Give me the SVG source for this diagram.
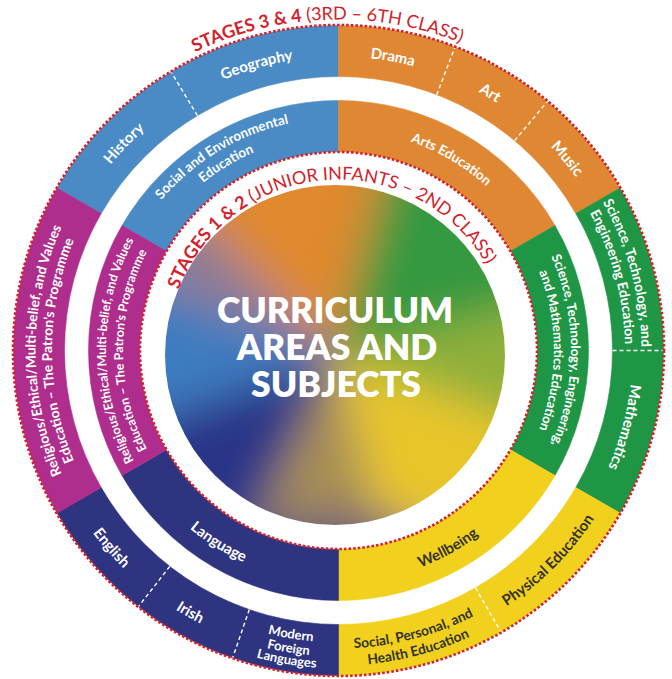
<svg xmlns="http://www.w3.org/2000/svg" width="672" height="679" viewBox="0 0 672 679">
<style>
.t{font-family:Lato,'Liberation Sans',sans-serif;font-weight:700;text-anchor:middle}
.w{fill:#ffffff}
.k{fill:#34342a}
.r{fill:#d3222a;font-size:18px}
.s1{font-size:15px}
.s2{font-size:13.8px}
.s3{font-size:13.5px}
.s4{font-size:13px}
.s5{font-size:12.5px}
.div{stroke:#ffffff;stroke-width:1.4;stroke-dasharray:4 3;fill:none}
.rd{fill:none;stroke:#d3222a;stroke-width:2.6;stroke-dasharray:2.6 2}
.bl{fill:#4a8bc5;stroke:#4a8bc5;stroke-width:0.6}
.or{fill:#e08734;stroke:#e08734;stroke-width:0.6}
.gr{fill:#1f9646;stroke:#1f9646;stroke-width:0.6}
.ye{fill:#f2d01e;stroke:#f2d01e;stroke-width:0.6}
.nv{fill:#2e3480;stroke:#2e3480;stroke-width:0.6}
.mg{fill:#af2d8c;stroke:#af2d8c;stroke-width:0.6}
.title{font-family:Lato,'Liberation Sans',sans-serif;font-weight:800;font-size:35.5px;fill:#ffffff;text-anchor:middle}
</style>
<defs>
<path id="t294" d="M44.5 350.5 A294 294 0 0 1 632.5 350.5"/>
<path id="t303" d="M35.5 350.5 A303 303 0 0 1 641.5 350.5"/>
<path id="t286" d="M52 350.5 A286.5 286.5 0 0 1 625 350.5"/>
<path id="t221" d="M117.5 350.5 A221 221 0 0 1 559.5 350.5"/>
<path id="t232" d="M106 350.5 A232.5 232.5 0 0 1 571 350.5"/>
<path id="t215" d="M123 350.5 A215.5 215.5 0 0 1 554 350.5"/>
<path id="t331" d="M7.5 350.5 A331 331 0 0 1 669.5 350.5"/>
<path id="t171" d="M167.5 350.5 A171 171 0 0 1 509.5 350.5"/>
<path id="b306" d="M32.5 350.5 A306 306 0 0 0 644.5 350.5"/>
<path id="b298" d="M40.5 350.5 A298 298 0 0 0 636.5 350.5"/>
<path id="b315" d="M23.5 350.5 A315 315 0 0 0 653.5 350.5"/>
<path id="b292" d="M46.5 350.5 A292 292 0 0 0 630.5 350.5"/>
<path id="b318" d="M20.5 350.5 A318 318 0 0 0 656.5 350.5"/>
<path id="b232" d="M106.5 350.5 A232 232 0 0 0 570.5 350.5"/>
<clipPath id="cc"><circle cx="335" cy="355" r="170"/></clipPath>
<filter id="bz" x="-30%" y="-30%" width="160%" height="160%"><feGaussianBlur stdDeviation="22"/></filter>
</defs>

<g id="center">
<g clip-path="url(#cc)">
<g filter="url(#bz)">
<polygon points="335,355 151.2,171.2 402.3,103.9" fill="#e0892f"/>
<polygon points="335,355 402.3,103.9 586.1,287.7" fill="#34993f"/>
<polygon points="335,355 586.1,287.7 579.3,443.9" fill="#8fb03a"/>
<polygon points="335,355 579.3,443.9 402.3,606.1" fill="#e8c62a"/>
<polygon points="335,355 402.3,606.1 225.1,590.6" fill="#a88f55"/>
<polygon points="335,355 225.1,590.6 90.7,443.9" fill="#2c3487"/>
<polygon points="335,355 90.7,443.9 90.7,266.1" fill="#3e7cc0"/>
<polygon points="335,355 90.7,266.1 151.2,171.2" fill="#8d7c96"/>
<ellipse cx="330" cy="545" rx="110" ry="32" fill="#6e5f7a"/>
</g>
</g>
<text class="title" x="335" y="323">CURRICULUM</text>
<text class="title" x="337" y="360">AREAS AND</text>
<text class="title" x="336" y="397">SUBJECTS</text>
</g>

<g id="inner-ring">
<g id="inner-social">
<path class="bl" d="M122 225.5 A250 250 0 0 1 338.5 100.5 L338.5 151.5 A199 199 0 0 0 166.17 251 Z"/>
<text class="t w s3" transform="rotate(-31 338.5 350.5)"><textPath href="#t232" startOffset="50%">Social and Environmental</textPath></text>
<text class="t w s3" transform="rotate(-31 338.5 350.5)"><textPath href="#t215" startOffset="50%">Education</textPath></text>
</g>
<g id="inner-arts">
<path class="or" d="M338.5 100.5 A250 250 0 0 1 555 225.5 L510.83 251 A199 199 0 0 0 338.5 151.5 Z"/>
<text class="t w s3" transform="rotate(30.5 338.5 350.5)"><textPath href="#t221" startOffset="50%">Arts Education</textPath></text>
</g>
<g id="inner-stem">
<path class="gr" d="M555 225.5 A250 250 0 0 1 555 475.5 L510.83 450 A199 199 0 0 0 510.83 251 Z"/>
<text class="t w s4" transform="rotate(90 338.5 350.5)"><textPath href="#t232" startOffset="50%">Science, Technology, Engineering,</textPath></text>
<text class="t w s4" transform="rotate(90 338.5 350.5)"><textPath href="#t215" startOffset="50%">and Mathematics Education</textPath></text>
</g>
<g id="inner-wellbeing">
<path class="ye" d="M555 475.5 A250 250 0 0 1 338.5 600.5 L338.5 549.5 A199 199 0 0 0 510.83 450 Z"/>
<text class="t k s1" transform="rotate(-29 338.5 350.5)"><textPath href="#b232" startOffset="50%">Wellbeing</textPath></text>
</g>
<g id="inner-language">
<path class="nv" d="M338.5 600.5 A250 250 0 0 1 122 475.5 L166.17 450 A199 199 0 0 0 338.5 549.5 Z"/>
<text class="t w s1" transform="rotate(32 338.5 350.5)"><textPath href="#b232" startOffset="50%">Language</textPath></text>
</g>
<g id="inner-religious">
<path class="mg" d="M122 475.5 A250 250 0 0 1 122 225.5 L166.17 251 A199 199 0 0 0 166.17 450 Z"/>
<text class="t w s5" transform="rotate(-90 338.5 350.5)"><textPath href="#t232" startOffset="50%">Religious/Ethical/Multi-belief, and Values</textPath></text>
<text class="t w s5" transform="rotate(-90 338.5 350.5)"><textPath href="#t215" startOffset="50%">Education – The Patron's Programme</textPath></text>
</g>
</g>

<g id="outer-ring">
<g id="outer-social">
<path class="bl" d="M57.05 188 A325 325 0 0 1 338.5 25.5 L338.5 76.5 A274 274 0 0 0 101.21 213.5 Z"/>
<text class="t w s1" transform="rotate(314 338.5 350.5)"><textPath href="#t294" startOffset="50%">History</textPath></text>
<text class="t w s1" transform="rotate(344 338.5 350.5)"><textPath href="#t294" startOffset="50%">Geography</textPath></text>
</g>
<g id="outer-arts">
<path class="or" d="M338.5 25.5 A325 325 0 0 1 619.95 188 L575.79 213.5 A274 274 0 0 0 338.5 76.5 Z"/>
<text class="t w s1" transform="rotate(10.5 338.5 350.5)"><textPath href="#t294" startOffset="50%">Drama</textPath></text>
<text class="t w s1" transform="rotate(30.5 338.5 350.5)"><textPath href="#t294" startOffset="50%">Art</textPath></text>
<text class="t w s1" transform="rotate(50 338.5 350.5)"><textPath href="#t294" startOffset="50%">Music</textPath></text>
</g>
<g id="outer-stem">
<path class="gr" d="M619.95 188 A325 325 0 0 1 619.95 513 L575.79 487.5 A274 274 0 0 0 575.79 213.5 Z"/>
<text class="t w s2" transform="rotate(75 338.5 350.5)"><textPath href="#t303" startOffset="50%">Science, Technology, and</textPath></text>
<text class="t w s2" transform="rotate(75 338.5 350.5)"><textPath href="#t286" startOffset="50%">Engineering Education</textPath></text>
<text class="t w s1" transform="rotate(105 338.5 350.5)"><textPath href="#t294" startOffset="50%">Mathematics</textPath></text>
</g>
<g id="outer-wellbeing">
<path class="ye" d="M619.95 513 A325 325 0 0 1 338.5 675.5 L338.5 624.5 A274 274 0 0 0 575.79 487.5 Z"/>
<text class="t k s1" transform="rotate(-45 338.5 350.5)"><textPath href="#b306" startOffset="50%">Physical Education</textPath></text>
<text class="t k s2" transform="rotate(-15 338.5 350.5)"><textPath href="#b298" startOffset="50%">Social, Personal, and</textPath></text>
<text class="t k s2" transform="rotate(-15 338.5 350.5)"><textPath href="#b315" startOffset="50%">Health Education</textPath></text>
</g>
<g id="outer-language">
<path class="nv" d="M338.5 675.5 A325 325 0 0 1 57.05 513 L101.21 487.5 A274 274 0 0 0 338.5 624.5 Z"/>
<text class="t w s1" transform="rotate(49 338.5 350.5)"><textPath href="#b306" startOffset="50%">English</textPath></text>
<text class="t w s1" transform="rotate(29.5 338.5 350.5)"><textPath href="#b306" startOffset="50%">Irish</textPath></text>
<text class="t w s4" transform="rotate(9.5 338.5 350.5)"><textPath href="#b292" startOffset="50%">Modern</textPath></text>
<text class="t w s4" transform="rotate(9.5 338.5 350.5)"><textPath href="#b306" startOffset="50%">Foreign</textPath></text>
<text class="t w s4" transform="rotate(9.5 338.5 350.5)"><textPath href="#b318" startOffset="50%">Languages</textPath></text>
</g>
<g id="outer-religious">
<path class="mg" d="M57.05 513 A325 325 0 0 1 57.05 188 L101.21 213.5 A274 274 0 0 0 101.21 487.5 Z"/>
<text class="t w s2" transform="rotate(-90 338.5 350.5)"><textPath href="#t303" startOffset="50%">Religious/Ethical/Multi-belief, and Values</textPath></text>
<text class="t w s2" transform="rotate(-90 338.5 350.5)"><textPath href="#t286" startOffset="50%">Education – The Patron's Programme</textPath></text>
</g>
</g>

<g id="connectors">
<line class="div" x1="197.4" y1="115.6" x2="171.1" y2="71.9"/>
<line class="div" x1="436.7" y1="94.7" x2="455" y2="47.1"/>
<line class="div" x1="514.6" y1="140.6" x2="547.4" y2="101.5"/>
<line class="div" x1="612.5" y1="350.5" x2="663.5" y2="350.5"/>
<line class="div" x1="475.5" y1="587.8" x2="501" y2="632"/>
<line class="div" x1="249.3" y1="609.6" x2="232.7" y2="657.8"/>
<line class="div" x1="169.8" y1="566.4" x2="138.4" y2="606.6"/>
</g>

<g id="stage-borders">
<circle class="rd" cx="338.5" cy="350.5" r="325.5"/>
<circle class="rd" cx="338.5" cy="350.5" r="198.5"/>
<text class="t r" transform="rotate(-2 338.5 350.5)"><textPath href="#t331" startOffset="50%"><tspan font-weight="700">STAGES 3 &amp; 4 </tspan><tspan font-weight="400">(3RD – 6TH CLASS)</tspan></textPath></text>
<text class="t r" transform="rotate(-4.6 338.5 350.5)"><textPath href="#t171" startOffset="50%"><tspan font-weight="700">STAGES 1 &amp; 2 </tspan><tspan font-weight="400">(JUNIOR INFANTS – 2ND CLASS)</tspan></textPath></text>
</g>
</svg>
